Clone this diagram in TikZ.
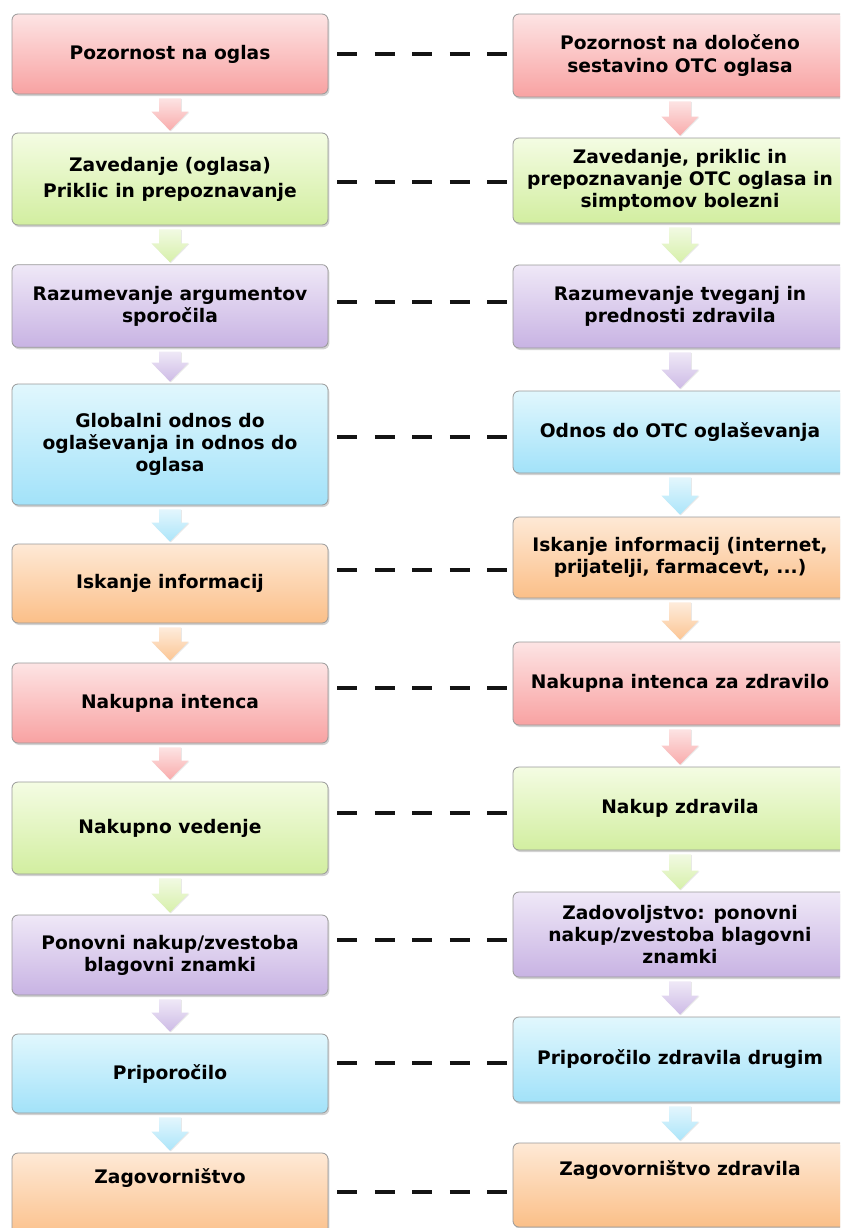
\documentclass[tikz,border=0pt]{standalone}
\usepackage{fontspec}
\setmainfont{DejaVu Sans}
\usetikzlibrary{shadows,calc}

% stage colours: light top, deeper bottom
\definecolor{redT}{HTML}{FDE4E4}\definecolor{redB}{HTML}{F8A2A2}
\definecolor{grnT}{HTML}{F4FCE3}\definecolor{grnB}{HTML}{D2EEA0}
\definecolor{purT}{HTML}{EFE8F7}\definecolor{purB}{HTML}{C8B3E3}
\definecolor{bluT}{HTML}{E1F7FD}\definecolor{bluB}{HTML}{A2E2F9}
\definecolor{orgT}{HTML}{FEE9D6}\definecolor{orgB}{HTML}{FBBF88}

% block arrow from the bottom of one stage to the top of the next
\newcommand\flowarrow[3]{%
  \path let \p1=(#1.south), \p2=(#2.north) in
    [shade, top color=#3!30, bottom color=#3!90,
     drop shadow={shadow xshift=0.6pt, shadow yshift=-0.6pt, opacity=0.18}]
    (\x1-8.25pt,\y1-3pt) -- (\x1+8.25pt,\y1-3pt) -- (\x1+8.25pt,\y2+15.75pt)
    -- (\x1+13.9pt,\y2+15.75pt) -- (\x1,\y2+1.5pt) -- (\x1-13.9pt,\y2+15.75pt)
    -- (\x1-8.25pt,\y2+15.75pt) -- cycle;}

\tikzset{
  x=0.75pt, y=-0.75pt,
  stage/.style={rectangle, rounded corners=4.5pt, draw=black!40, line width=0.6pt,
    align=center, inner sep=2pt, text=black,
    font=\bfseries\fontsize{14pt}{16.6pt}\selectfont,
    drop shadow={shadow xshift=1pt, shadow yshift=-1.5pt, opacity=0.35}},
  lft/.style={stage, minimum width=237pt, minimum height=60pt},
  rgt/.style={stage, minimum width=250.5pt, minimum height=62.25pt},
  cRed/.style={top color=redT, bottom color=redB},
  cGrn/.style={top color=grnT, bottom color=grnB},
  cPur/.style={top color=purT, bottom color=purB},
  cBlu/.style={top color=bluT, bottom color=bluB},
  cOrg/.style={top color=orgT, bottom color=orgB},
  dashline/.style={line width=3pt, dash pattern=on 15pt off 13.1pt,
    shorten <=6.75pt, shorten >=4.5pt, black!92},
}

\begin{document}
\begin{tikzpicture}
\useasboundingbox[fill=white] (0,0) rectangle (840,1228);
\clip (0,0) rectangle (840,1228);

% general model (left column)
\node[lft,cRed] (L1) at (170,54) {Pozornost na oglas};
\node[lft,cGrn,minimum height=69pt] (L2) at (170,179) {Zavedanje (oglasa)\\[3pt]Priklic in prepoznavanje};
\node[lft,cPur,minimum height=62pt] (L3) at (170,306) {Razumevanje argumentov\\sporočila};
\node[lft,cBlu,minimum height=90.75pt] (L4) at (170,444.5) {Globalni odnos do\\oglaševanja in odnos do\\oglasa};
\node[lft,cOrg,minimum height=59.25pt] (L5) at (170,583.5) {Iskanje informacij};
\node[lft,cRed] (L6) at (170,703) {Nakupna intenca};
\node[lft,cGrn,minimum height=69pt] (L7) at (170,828) {Nakupno vedenje};
\node[lft,cPur] (L8) at (170,955) {Ponovni nakup/zvestoba\\blagovni znamki};
\node[lft,cBlu,minimum height=59.25pt] (L9) at (170,1073.5) {Priporočilo};
\node[lft,cOrg,minimum height=65.25pt,text depth=30pt] (L10) at (170,1196.5) {Zagovorništvo};

% OTC model (right column)
\node[rgt,cRed] (R1) at (680,55.5) {Pozornost na določeno\\sestavino OTC oglasa};
\node[rgt,cGrn,minimum height=63.75pt] (R2) at (680,180.5) {Zavedanje, priklic in\\prepoznavanje OTC oglasa in\\simptomov bolezni};
\node[rgt,cPur] (R3) at (680,306.5) {Razumevanje tveganj in\\prednosti zdravila};
\node[rgt,cBlu,minimum height=61.5pt] (R4) at (680,432) {Odnos do OTC oglaševanja};
\node[rgt,cOrg,minimum height=60.75pt] (R5) at (680,557.5) {Iskanje informacij (internet,\\prijatelji, farmacevt, ...)};
\node[rgt,cRed] (R6) at (680,683.5) {Nakupna intenca za zdravilo};
\node[rgt,cGrn] (R7) at (680,808.5) {Nakup zdravila};
\node[rgt,cPur,minimum height=63.75pt] (R8) at (680,934.5) {Zadovoljstvo: ponovni\\nakup/zvestoba blagovni\\znamki};
\node[rgt,cBlu,minimum height=63.75pt] (R9) at (680,1059.5) {Priporočilo zdravila drugim};
\node[rgt,cOrg,minimum height=63pt,text depth=26pt] (R10) at (680,1185) {Zagovorništvo zdravila};

% flow arrows
\flowarrow{L1}{L2}{redB}  \flowarrow{L2}{L3}{grnB}  \flowarrow{L3}{L4}{purB}
\flowarrow{L4}{L5}{bluB}  \flowarrow{L5}{L6}{orgB}  \flowarrow{L6}{L7}{redB}
\flowarrow{L7}{L8}{grnB}  \flowarrow{L8}{L9}{purB}  \flowarrow{L9}{L10}{bluB}
\flowarrow{R1}{R2}{redB}  \flowarrow{R2}{R3}{grnB}  \flowarrow{R3}{R4}{purB}
\flowarrow{R4}{R5}{bluB}  \flowarrow{R5}{R6}{orgB}  \flowarrow{R6}{R7}{redB}
\flowarrow{R7}{R8}{grnB}  \flowarrow{R8}{R9}{purB}  \flowarrow{R9}{R10}{bluB}

% dashed correspondences between the two models
\foreach \i/\yy in {1/54,2/182,3/302,4/437,5/570,6/688,7/813,8/940,9/1063,10/1192}{
  \coordinate (d\i) at (0,\yy);
  \draw[dashline] (L\i.east |- d\i) -- (R\i.west |- d\i);
}
\end{tikzpicture}
\end{document}
